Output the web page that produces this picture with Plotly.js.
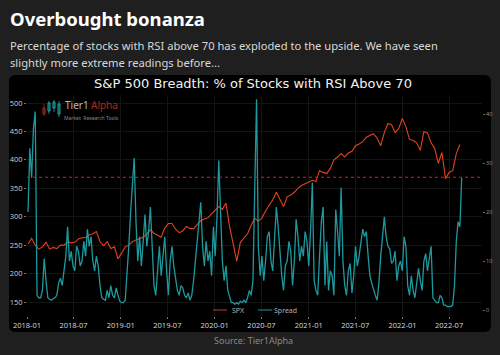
<!DOCTYPE html>
<html><head><meta charset="utf-8">
<script src="https://cdn.plot.ly/plotly-3.0.1.min.js"></script>
<style>
html,body{margin:0;padding:0;background:#1f1f1f;width:500px;height:355px;overflow:hidden;}
#box{position:absolute;left:9px;top:75px;width:482px;height:257px;background:#000;border-radius:6px;}
#chart{position:absolute;left:0;top:0;width:500px;height:355px;}
</style></head><body>
<div id="box"></div><div id="chart"></div>
<script>
// ---- data ----
const spxStart = '2018-01-05';   // bi-weekly observations
const spxStepDays = 14;
const spxValues = [
 252,262,250,243,247,255,243,246,244,250,250,256,254,255,261,263,263,268,270,274,256,249,256,244,247,226,
 236,247,250,256,259,262,264,270,277,271,268,264,280,288,288,278,272,275,283,279,279,286,293,296,298,305,
 312,318,313,324,283,250,222,255,262,270,285,297,292,298,310,320,330,343,330,318,335,338,343,350,355,358,
 360,364,362,381,378,376,385,400,405,411,405,412,415,425,428,432,440,443,446,438,425,448,464,462,448,455,473,
 458,436,434,430,417,450,447,430,420,394,413,367,378,381,411,427
];
const spreadStart = '2018-01-05'; // weekly observations
const spreadStepDays = 7;
const spreadValues = [
 20,33,27,37,40.5,3,2.5,2.5,4,10.5,
 6,2.5,2.2,2,2.3,2.5,3,5.5,6.5,5,
 8,11,17,10,12,9,8,13,12,9,
 10,14,11,16.5,13,15,10,8,11,9,
 5,2.5,2.2,2,4,2.5,5,3,2.5,4.5,
 3,1.8,1.5,1.5,2,7,13,20,25,31,
 18,10,15,9,14,19.5,13,16,21,12,
 5,3,8,13,7,11,15,8,3,10,
 13,9,6,4,3,5,4.5,3,2.5,3.5,
 2,3,6,10,14,18,22,13,9,14,
 10,12,7,17,11,19,30.5,20,10,6,
 9,4,2.5,1.5,1.5,1.2,1.5,1.2,1.8,1.5,
 2,1.5,2.5,4,3,6,25,43,13,7,
 11,6,10,15,16,10,8,14,21,17,
 11,7,4,9,10,14,12,5,10,18.5,
 15,10,13,11,16,14,9,16,26,6,
 4,3,11,18,21,5,14,4,8,7,
 3,20.5,16,11,25,10,5,3,8,9.5,
 3.5,7,13,9,11,14,16.5,15,16,11,
 7,5.5,4,3,2,5.5,11,15,19,15,
 13,12.5,9.5,10,12,6,9,10,8,15,
 13,5,3,7,4,2.5,6,8.5,6,4,
 10,11.5,8,11,13,2.5,2,1.5,1.5,3,
 2.5,1,1,0.7,0.7,0.7,1,5,14,18,
 17,27
];
const thresholdLevel = 27.1;
const leftTicks = [150,200,250,300,350,400,450,500];
const rightTicks = [0,10,20,30,40];
const seriesNames = ['SPX','Spread'];

function makeDates(start, step, n){
  const t0 = Date.parse(start + 'T00:00:00Z');
  const out = [];
  for(let i=0;i<n;i++){ out.push(new Date(t0 + i*step*86400000).toISOString().slice(0,10)); }
  return out;
}
const spxDates = makeDates(spxStart, spxStepDays, spxValues.length);
const spreadDates = makeDates(spreadStart, spreadStepDays, spreadValues.length);

// ---- layout helpers (pixel -> paper) ----
const L=27, R=482, T=95, B=316;
const ax = x => (x-L)/(R-L);
const ay = y => (B-y)/(B-T);

const RED='#e5421d', TEAL='#1fa6ab';

const traces = [
  {x:spxDates, y:spxValues, name:seriesNames[0], type:'scatter', mode:'lines',
   line:{color:RED, width:1.1}, yaxis:'y', hoverinfo:'skip'},
  {x:spreadDates, y:spreadValues, name:seriesNames[1], type:'scatter', mode:'lines',
   line:{color:TEAL, width:1.3}, yaxis:'y2', opacity:0.92, hoverinfo:'skip'}
];

function txt(text,x,y,size,color,opts){
  return Object.assign({xref:'paper',yref:'paper',x:ax(x),y:ay(y),text:text,showarrow:false,borderpad:0,
    xanchor:'left',yanchor:'middle',font:{family:'Noto Sans, sans-serif',size:size,color:color}},opts||{});
}
function pline(x0,y0,x1,y1,color,w){
  return {type:'line',xref:'paper',yref:'paper',x0:ax(x0),x1:ax(x1),y0:ay(y0),y1:ay(y1),line:{color:color,width:w}};
}
function prect(x0,y0,x1,y1,color){
  return {type:'rect',xref:'paper',yref:'paper',x0:ax(x0),x1:ax(x1),y0:ay(y0),y1:ay(y1),line:{color:color,width:1}};
}

const annotations = [
  txt('Overbought bonanza',9,19,18.5,'#ffffff',{font:{family:'Noto Sans, sans-serif',size:18.5,color:'#ffffff',weight:700}}),
  txt('Percentage of stocks with RSI above 70 has exploded to the upside. We have seen',9,46,11.2,'#d8d8d8'),
  txt('slightly more extreme readings before...',9,62,11.2,'#d8d8d8'),
  txt('Source: Tier1Alpha',253,340,9,'#8a8a8a',{xanchor:'center'}),
  txt('Tier1',64,105,10,'#b8b8b8'),
  txt('Alpha',90,105,10,'#b3261a'),
  txt('Market  Research Tools',63,117.5,5,'#8a8a8a'),
  txt(seriesNames[0],231,310,7,'#b0b0b0'),
  txt(seriesNames[1],273,310,7,'#b0b0b0')
];

const shapes = [
  {type:'line',xref:'paper',x0:0,x1:1,yref:'y2',y0:thresholdLevel,y1:thresholdLevel,
   line:{color:'#c42a1e',width:1,dash:'dot'}},
  pline(213,310,227,310,'#7e2d22',1.5),
  pline(258,310,272,310,'#1c6264',1.5),
  // logo candles
  pline(44,104,44,116,'#b3261a',0.8), prect(43,108,45,114,'#b3261a'),
  pline(49,101,49,114,'#1fa6ab',0.8), prect(48,103,50,111,'#1fa6ab'),
  pline(54,100,54,112,'#1fa6ab',0.8), prect(53,102,55,108,'#1fa6ab'),
  pline(59,101,59,117,'#1fa6ab',0.8), prect(58,104,60,114,'#1fa6ab')
];

const layout = {
  width:500, height:355,
  margin:{l:L, r:500-R, t:T, b:355-B, pad:0},
  paper_bgcolor:'rgba(0,0,0,0)', plot_bgcolor:'#000',
  showlegend:false,
  title:{text:'S&P 500 Breadth: % of Stocks with RSI Above 70', x:0.506, y:1-83/355,
    xanchor:'center', yanchor:'middle', font:{family:'DejaVu Sans, sans-serif', size:13, color:'#f2f2f2'}},
  xaxis:{type:'date', range:['2018-01-01','2022-11-06'], dtick:'M6', tick0:'2018-01-01',
    tickformat:'%Y-%m', showgrid:true, gridcolor:'#141414', gridwidth:1, zeroline:false,
    ticks:'outside', ticklen:2, tickcolor:'#777', showline:false,
    tickfont:{family:'Open Sans, sans-serif', size:7.5, color:'#dcdcdc'}},
  yaxis:{range:[125.4,514.1], tickvals:leftTicks, showgrid:true, gridcolor:'#141414', zeroline:false,
    ticks:'outside', ticklen:2, tickcolor:'#777', showline:false,
    tickfont:{family:'Open Sans, sans-serif', size:7.5, color:'#cfcfcf'}},
  yaxis2:{overlaying:'y', side:'right', range:[-1.22,43.88], tickvals:rightTicks, showgrid:false, zeroline:false,
    ticks:'outside', ticklen:2, tickcolor:'#666', showline:false,
    tickfont:{family:'Open Sans, sans-serif', size:5.5, color:'#9a9a9a'}},
  annotations:annotations,
  shapes:shapes
};

Plotly.newPlot('chart', traces, layout, {staticPlot:true, displayModeBar:false});
</script>
</body></html>
